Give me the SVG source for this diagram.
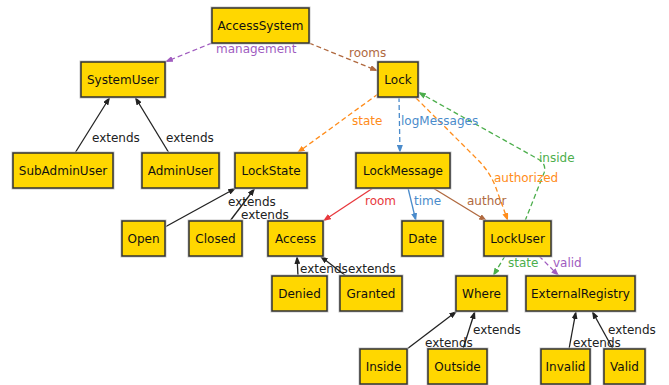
<svg xmlns="http://www.w3.org/2000/svg" width="669" height="385" viewBox="0 0 669 385">
<defs>
<style>
.n rect.s{fill:none;stroke:#c8c8c8;stroke-width:3}
.n rect.b{fill:#ffd700;stroke:#333;stroke-width:1.5}
.n text{font-family:"DejaVu Sans",sans-serif;font-size:12px;fill:#111;text-anchor:middle}
.e path{fill:none;stroke-width:1.3}
.d{stroke-dasharray:5,3}
.lbl{font-family:"DejaVu Sans",sans-serif;font-size:12px}
.k{stroke:#222}
.pu{stroke:#a05cbf}
.br{stroke:#b0693f}
.or{stroke:#ff8c1a}
.bl{stroke:#4a8bcb}
.gr{stroke:#4cae4c}
.re{stroke:#e8383d}
</style>
<marker id="mk" markerUnits="userSpaceOnUse" markerWidth="8" markerHeight="6" refX="8" refY="3" orient="auto"><path d="M0,0 L8,3 L0,6 z" fill="#222"/></marker>
<marker id="mpu" markerUnits="userSpaceOnUse" markerWidth="8" markerHeight="6" refX="8" refY="3" orient="auto"><path d="M0,0 L8,3 L0,6 z" fill="#a05cbf"/></marker>
<marker id="mbr" markerUnits="userSpaceOnUse" markerWidth="8" markerHeight="6" refX="8" refY="3" orient="auto"><path d="M0,0 L8,3 L0,6 z" fill="#b0693f"/></marker>
<marker id="mor" markerUnits="userSpaceOnUse" markerWidth="8" markerHeight="6" refX="8" refY="3" orient="auto"><path d="M0,0 L8,3 L0,6 z" fill="#ff8c1a"/></marker>
<marker id="mbl" markerUnits="userSpaceOnUse" markerWidth="8" markerHeight="6" refX="8" refY="3" orient="auto"><path d="M0,0 L8,3 L0,6 z" fill="#4a8bcb"/></marker>
<marker id="mgr" markerUnits="userSpaceOnUse" markerWidth="8" markerHeight="6" refX="8" refY="3" orient="auto"><path d="M0,0 L8,3 L0,6 z" fill="#4cae4c"/></marker>
<marker id="mre" markerUnits="userSpaceOnUse" markerWidth="8" markerHeight="6" refX="8" refY="3" orient="auto"><path d="M0,0 L8,3 L0,6 z" fill="#e8383d"/></marker>
</defs>
<rect width="669" height="385" fill="#fff"/>
<g id="connectors" class="e">
<path class="pu d" d="M212,43 L165,62" marker-end="url(#mpu)"/>
<path class="br d" d="M309,43 L378,71" marker-end="url(#mbr)"/>
<path class="or d" d="M378,94 L297,153" marker-end="url(#mor)"/>
<path class="bl d" d="M399,97 L400,153" marker-end="url(#mbl)"/>
<path class="or d" d="M416,98 L478,160 Q490,172 496,188 L508,221" marker-end="url(#mor)"/>
<path class="gr d" d="M525,221 L544,173 Q547,164 538,159 L418,92" marker-end="url(#mgr)"/>
<path class="re" d="M373,188 L323,221" marker-end="url(#mre)"/>
<path class="bl" d="M408,188 L416,221" marker-end="url(#mbl)"/>
<path class="br" d="M433,188 L487,221" marker-end="url(#mbr)"/>
<path class="gr d" d="M505,256 L493,276" marker-end="url(#mgr)"/>
<path class="pu d" d="M539,256 L559,276" marker-end="url(#mpu)"/>
<path class="k" d="M75,153 L110,97" marker-end="url(#mk)"/>
<path class="k" d="M169,153 L135,97" marker-end="url(#mk)"/>
<path class="k" d="M165,227 L236,188" marker-end="url(#mk)"/>
<path class="k" d="M230,221 L255,188" marker-end="url(#mk)"/>
<path class="k" d="M298,276 L297,256" marker-end="url(#mk)"/>
<path class="k" d="M346,276 L320,256" marker-end="url(#mk)"/>
<path class="k" d="M407,349 L457,311" marker-end="url(#mk)"/>
<path class="k" d="M463,349 L475,311" marker-end="url(#mk)"/>
<path class="k" d="M569,349 L576,311" marker-end="url(#mk)"/>
<path class="k" d="M613,349 L592,311" marker-end="url(#mk)"/>
<g class="lbl">
<text x="216" y="53" fill="#a05cbf">management</text>
<text x="349" y="57" fill="#b0693f">rooms</text>
<text x="352" y="125" fill="#ff8c1a">state</text>
<text x="401" y="125" fill="#4a8bcb">logMessages</text>
<text x="494" y="182" fill="#ff8c1a">authorized</text>
<text x="539" y="162" fill="#4cae4c">inside</text>
<text x="365" y="205" fill="#e8383d">room</text>
<text x="414" y="205" fill="#4a8bcb">time</text>
<text x="467" y="205" fill="#b0693f">author</text>
<text x="508" y="267" fill="#4cae4c">state</text>
<text x="553" y="267" fill="#a05cbf">valid</text>
<text x="92" y="142" fill="#222">extends</text>
<text x="166" y="142" fill="#222">extends</text>
<text x="228" y="206" fill="#222">extends</text>
<text x="241" y="219" fill="#222">extends</text>
<text x="300" y="273" fill="#222">extends</text>
<text x="348" y="273" fill="#222">extends</text>
<text x="425" y="347" fill="#222">extends</text>
<text x="473" y="334" fill="#222">extends</text>
<text x="573" y="347" fill="#222">extends</text>
<text x="608" y="334" fill="#222">extends</text>
</g>
</g>
<g id="AccessSystem" class="n"><rect class="s" x="212" y="8" width="97" height="35"/><rect class="b" x="212" y="8" width="97" height="35"/><text x="260.5" y="30">AccessSystem</text></g>
<g id="SystemUser" class="n"><rect class="s" x="81" y="62" width="84" height="35"/><rect class="b" x="81" y="62" width="84" height="35"/><text x="123" y="84">SystemUser</text></g>
<g id="Lock" class="n"><rect class="s" x="378" y="62" width="40" height="35"/><rect class="b" x="378" y="62" width="40" height="35"/><text x="398" y="84">Lock</text></g>
<g id="SubAdminUser" class="n"><rect class="s" x="13" y="153" width="100" height="35"/><rect class="b" x="13" y="153" width="100" height="35"/><text x="63" y="175">SubAdminUser</text></g>
<g id="AdminUser" class="n"><rect class="s" x="142" y="153" width="77" height="35"/><rect class="b" x="142" y="153" width="77" height="35"/><text x="180.5" y="175">AdminUser</text></g>
<g id="LockState" class="n"><rect class="s" x="235" y="153" width="72" height="35"/><rect class="b" x="235" y="153" width="72" height="35"/><text x="271" y="175">LockState</text></g>
<g id="LockMessage" class="n"><rect class="s" x="356" y="153" width="94" height="35"/><rect class="b" x="356" y="153" width="94" height="35"/><text x="403" y="175">LockMessage</text></g>
<g id="Open" class="n"><rect class="s" x="122" y="221" width="43" height="35"/><rect class="b" x="122" y="221" width="43" height="35"/><text x="143.5" y="243">Open</text></g>
<g id="Closed" class="n"><rect class="s" x="189" y="221" width="53" height="35"/><rect class="b" x="189" y="221" width="53" height="35"/><text x="215.5" y="243">Closed</text></g>
<g id="Access" class="n"><rect class="s" x="268" y="221" width="55" height="35"/><rect class="b" x="268" y="221" width="55" height="35"/><text x="295.5" y="243">Access</text></g>
<g id="Date" class="n"><rect class="s" x="402" y="221" width="41" height="35"/><rect class="b" x="402" y="221" width="41" height="35"/><text x="422.5" y="243">Date</text></g>
<g id="LockUser" class="n"><rect class="s" x="484" y="221" width="67" height="35"/><rect class="b" x="484" y="221" width="67" height="35"/><text x="517.5" y="243">LockUser</text></g>
<g id="Denied" class="n"><rect class="s" x="272" y="276" width="55" height="35"/><rect class="b" x="272" y="276" width="55" height="35"/><text x="299.5" y="298">Denied</text></g>
<g id="Granted" class="n"><rect class="s" x="340" y="276" width="62" height="35"/><rect class="b" x="340" y="276" width="62" height="35"/><text x="371" y="298">Granted</text></g>
<g id="Where" class="n"><rect class="s" x="456" y="276" width="51" height="35"/><rect class="b" x="456" y="276" width="51" height="35"/><text x="481.5" y="298">Where</text></g>
<g id="ExternalRegistry" class="n"><rect class="s" x="526" y="276" width="109" height="35"/><rect class="b" x="526" y="276" width="109" height="35"/><text x="580.5" y="298">ExternalRegistry</text></g>
<g id="Inside" class="n"><rect class="s" x="360" y="349" width="47" height="35"/><rect class="b" x="360" y="349" width="47" height="35"/><text x="383.5" y="371">Inside</text></g>
<g id="Outside" class="n"><rect class="s" x="428" y="349" width="59" height="35"/><rect class="b" x="428" y="349" width="59" height="35"/><text x="457.5" y="371">Outside</text></g>
<g id="Invalid" class="n"><rect class="s" x="541" y="349" width="49" height="35"/><rect class="b" x="541" y="349" width="49" height="35"/><text x="565.5" y="371">Invalid</text></g>
<g id="Valid" class="n"><rect class="s" x="604" y="349" width="41" height="35"/><rect class="b" x="604" y="349" width="41" height="35"/><text x="624.5" y="371">Valid</text></g>
</svg>
